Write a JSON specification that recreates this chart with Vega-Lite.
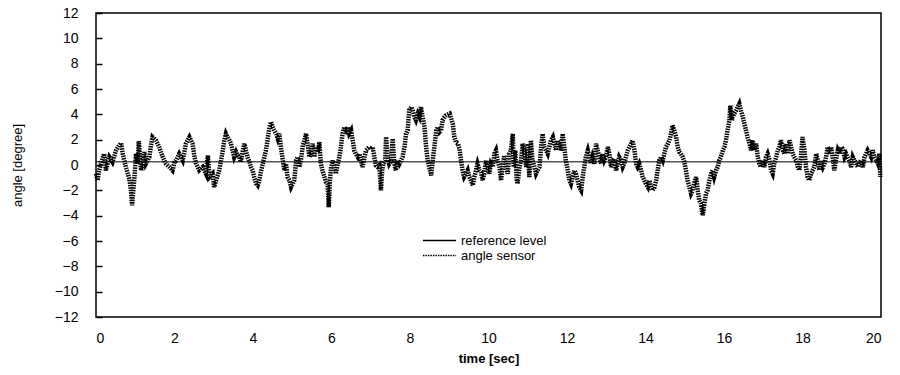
{
  "$schema": "https://vega.github.io/schema/vega-lite/v6.json",
  "width": 785,
  "height": 304,
  "autosize": "none",
  "padding": {"left": 96, "top": 13, "right": 19, "bottom": 58},
  "background": "white",
  "config": {
    "view": {"stroke": "black", "strokeWidth": 1.5},
    "font": "Liberation Sans",
    "axis": {"grid": false, "domain": false, "labelFont": "Liberation Sans", "titleFont": "Liberation Sans", "labelColor": "black", "titleColor": "black"}
  },
  "datasets": {
    "ref": [{"t": 0, "v": 0.25, "series": "reference level"}, {"t": 20, "v": 0.25, "series": "reference level"}],
    "sensor": [
      {"t":0.00,"v":-0.69},{"t":0.04,"v":-1.22},{"t":0.08,"v":-0.43},{"t":0.15,"v":0.36},{"t":0.21,"v":0.89},{"t":0.25,"v":-0.43},{"t":0.34,"v":0.63},{"t":0.42,"v":0.23},{"t":0.51,"v":1.15},{"t":0.59,"v":1.55},{"t":0.64,"v":1.73},{"t":0.68,"v":0.89},{"t":0.76,"v":-0.16},{"t":0.85,"v":-1.09},{"t":0.89,"v":-2.01},{"t":0.92,"v":-3.19},{"t":0.95,"v":-2.01},{"t":0.98,"v":-0.95},{"t":1.02,"v":0.89},{"t":1.06,"v":0.10},{"t":1.09,"v":1.89},{"t":1.15,"v":-0.43},{"t":1.23,"v":1.02},{"t":1.27,"v":0.10},{"t":1.36,"v":0.63},{"t":1.40,"v":1.55},{"t":1.44,"v":2.21},{"t":1.53,"v":1.94},{"t":1.61,"v":1.42},{"t":1.70,"v":0.63},{"t":1.78,"v":0.10},{"t":1.87,"v":-0.16},{"t":1.95,"v":-0.43},{"t":2.00,"v":0.23},{"t":2.04,"v":0.36},{"t":2.12,"v":0.89},{"t":2.21,"v":0.36},{"t":2.29,"v":1.68},{"t":2.38,"v":2.21},
      {"t":2.46,"v":1.68},{"t":2.51,"v":0.63},{"t":2.55,"v":0.11},{"t":2.63,"v":-0.42},{"t":2.72,"v":-0.16},{"t":2.80,"v":-0.68},{"t":2.85,"v":0.76},{"t":2.89,"v":-0.95},{"t":2.97,"v":-0.68},{"t":3.01,"v":-1.74},{"t":3.06,"v":-1.21},{"t":3.14,"v":-0.42},{"t":3.18,"v":0.24},{"t":3.23,"v":1.16},{"t":3.27,"v":1.95},{"t":3.31,"v":2.47},{"t":3.35,"v":2.21},{"t":3.40,"v":1.95},{"t":3.44,"v":1.68},{"t":3.48,"v":1.16},{"t":3.52,"v":0.63},{"t":3.57,"v":1.03},{"t":3.61,"v":0.76},{"t":3.65,"v":0.63},{"t":3.69,"v":0.24},{"t":3.74,"v":1.16},{"t":3.78,"v":1.68},{"t":3.82,"v":1.16},{"t":3.86,"v":0.63},{"t":3.91,"v":0.24},{"t":3.95,"v":-0.16},{"t":3.99,"v":-0.42},{"t":4.03,"v":-0.95},{"t":4.08,"v":-1.47},{"t":4.12,"v":-1.61},{"t":4.16,"v":-1.21},{"t":4.20,"v":-0.55},{"t":4.25,"v":0.11},{"t":4.29,"v":0.63},{"t":4.33,"v":1.16},{"t":4.37,"v":1.95},{"t":4.42,"v":3.00},{"t":4.46,"v":3.39},{"t":4.50,"v":3.00},{"t":4.54,"v":2.74},{"t":4.59,"v":2.47},{"t":4.63,"v":2.08},
      {"t":4.67,"v":2.47},{"t":4.71,"v":1.42},{"t":4.76,"v":0.36},{"t":4.80,"v":-0.42},{"t":4.84,"v":0.10},{"t":4.88,"v":-0.95},{"t":4.93,"v":-1.21},{"t":4.97,"v":-1.74},{"t":5.01,"v":-1.48},{"t":5.05,"v":-1.21},{"t":5.10,"v":0.36},{"t":5.14,"v":0.63},{"t":5.18,"v":-0.16},{"t":5.22,"v":0.36},{"t":5.27,"v":1.55},{"t":5.31,"v":1.94},{"t":5.35,"v":2.47},{"t":5.39,"v":1.68},{"t":5.44,"v":0.63},{"t":5.48,"v":1.15},{"t":5.52,"v":1.68},{"t":5.56,"v":0.63},{"t":5.61,"v":1.42},{"t":5.65,"v":1.02},{"t":5.69,"v":1.81},{"t":5.73,"v":0.10},{"t":5.77,"v":-0.43},{"t":5.82,"v":-0.95},{"t":5.86,"v":-1.35},{"t":5.90,"v":-1.48},{"t":5.93,"v":-3.32},{"t":5.96,"v":-1.21},{"t":5.99,"v":-0.16},{"t":6.03,"v":0.36},{"t":6.07,"v":-0.16},{"t":6.11,"v":-0.69},{"t":6.16,"v":0.10},{"t":6.20,"v":0.63},{"t":6.24,"v":1.42},{"t":6.28,"v":2.47},{"t":6.33,"v":3.00},{"t":6.37,"v":2.74},{"t":6.41,"v":3.00},{"t":6.45,"v":2.47},{"t":6.50,"v":2.74},{"t":6.54,"v":1.94},{"t":6.58,"v":1.15},{"t":6.62,"v":0.89},{"t":6.67,"v":0.63},{"t":6.71,"v":0.89},{"t":6.75,"v":0.36},{"t":6.79,"v":-0.16},{"t":6.84,"v":0.63},{"t":6.88,"v":1.15},{"t":6.92,"v":1.29},{"t":6.96,"v":1.42},{"t":7.00,"v":1.29},{"t":7.05,"v":1.42},{"t":7.09,"v":0.63},{"t":7.13,"v":-0.03},{"t":7.18,"v":-0.16},{"t":7.22,"v":-0.03},{"t":7.26,"v":-2.0},{"t":7.29,"v":-0.43},{"t":7.32,"v":0.10},{"t":7.37,"v":0.36},{"t":7.39,"v":2.21},{"t":7.43,"v":0.63},{"t":7.47,"v":0.10},{"t":7.52,"v":0.36},{"t":7.56,"v":2.08},{"t":7.60,"v":0.10},{"t":7.64,"v":-0.43},{"t":7.69,"v":0.36},{"t":7.73,"v":0.10},{"t":7.77,"v":0.36},{"t":7.81,"v":0.63},{"t":7.86,"v":1.42},{"t":7.90,"v":2.47},{"t":7.94,"v":2.74},{"t":7.98,"v":4.32},{"t":8.03,"v":4.58},{"t":8.07,"v":4.32},{"t":8.11,"v":3.79},{"t":8.15,"v":3.53},{"t":8.20,"v":4.05},{"t":8.24,"v":3.79},{"t":8.28,"v":4.58},{"t":8.32,"v":3.79},{"t":8.37,"v":3.00},{"t":8.41,"v":1.42},{"t":8.45,"v":0.36},{"t":8.49,"v":-0.16},{"t":8.54,"v":-0.82},{"t":8.58,"v":0.36},{"t":8.62,"v":1.42},{"t":8.67,"v":2.74},{"t":8.71,"v":3.00},{"t":8.75,"v":2.60},{"t":8.79,"v":2.74},{"t":8.83,"v":3.53},{"t":8.88,"v":3.79},{"t":8.92,"v":3.92},{"t":9.01,"v":4.05},{"t":9.05,"v":3.66},{"t":9.09,"v":3.26},{"t":9.13,"v":2.21},{"t":9.17,"v":1.81},{"t":9.22,"v":1.68},{"t":9.26,"v":1.29},{"t":9.30,"v":0.36},{"t":9.34,"v":-0.43},{"t":9.38,"v":-0.95},{"t":9.43,"v":-0.69},{"t":9.47,"v":-0.43},{"t":9.51,"v":-0.95},{"t":9.55,"v":-1.21},{"t":9.60,"v":-1.61},{"t":9.64,"v":-0.95},{"t":9.68,"v":-0.43},{"t":9.72,"v":0.10},{"t":9.77,"v":-0.43},
      {"t":9.81,"v":-0.56},{"t":9.85,"v":-1.21},{"t":9.89,"v":-0.69},{"t":9.94,"v":0.36},{"t":9.98,"v":-0.16},{"t":10.02,"v":-0.69},{"t":10.06,"v":0.10},{"t":10.11,"v":-0.16},{"t":10.15,"v":0.89},{"t":10.19,"v":1.15},{"t":10.23,"v":0.36},{"t":10.28,"v":-0.16},{"t":10.32,"v":-1.22},{"t":10.36,"v":-0.16},{"t":10.40,"v":0.76},{"t":10.45,"v":-0.16},{"t":10.49,"v":-0.69},{"t":10.53,"v":0.89},{"t":10.57,"v":1.15},{"t":10.62,"v":2.47},{"t":10.64,"v":-0.16},{"t":10.68,"v":1.15},{"t":10.72,"v":-1.22},{"t":10.74,"v":-1.48},{"t":10.79,"v":-0.16},{"t":10.83,"v":0.36},{"t":10.87,"v":1.68},{"t":10.91,"v":1.15},{"t":10.96,"v":-0.16},{"t":11.00,"v":1.68},{"t":11.04,"v":-0.95},{"t":11.08,"v":1.94},{"t":11.12,"v":0.36},{"t":11.17,"v":-0.16},{"t":11.21,"v":-0.69},{"t":11.25,"v":-0.43},{"t":11.30,"v":-0.16},{"t":11.34,"v":1.42},{"t":11.38,"v":2.47},{"t":11.42,"v":1.42},{"t":11.47,"v":1.15},{"t":11.51,"v":0.89},{"t":11.55,"v":1.42},{"t":11.59,"v":1.94},{"t":11.64,"v":2.21},{"t":11.68,"v":1.68},{"t":11.72,"v":1.15},{"t":11.76,"v":1.94},{"t":11.80,"v":1.68},{"t":11.85,"v":1.15},{"t":11.89,"v":2.47},{"t":11.93,"v":1.42},{"t":11.97,"v":0.36},{"t":12.02,"v":-0.43},{"t":12.06,"v":-1.22},{"t":12.10,"v":-1.48},{"t":12.14,"v":-0.95},{"t":12.19,"v":-0.43},{"t":12.23,"v":-0.69},{"t":12.27,"v":-1.22},{"t":12.31,"v":-1.74},{"t":12.36,"v":-2.0},{"t":12.40,"v":-0.95},{"t":12.44,"v":-0.16},{"t":12.48,"v":0.63},{"t":12.53,"v":1.15},{"t":12.57,"v":0.63},{"t":12.61,"v":0.10},{"t":12.65,"v":0.63},{"t":12.70,"v":0.10},{"t":12.74,"v":1.68},{"t":12.78,"v":1.15},{"t":12.82,"v":0.63},{"t":12.87,"v":0.10},{"t":12.91,"v":0.89},{"t":12.95,"v":0.36},{"t":12.99,"v":0.63},{"t":13.04,"v":1.42},{"t":13.08,"v":0.89},{"t":13.12,"v":-0.16},{"t":13.17,"v":0.36},{"t":13.21,"v":0.49},{"t":13.25,"v":-0.43},{"t":13.29,"v":0.10},{"t":13.33,"v":0.63},{"t":13.38,"v":0.36},{"t":13.42,"v":-0.16},{"t":13.46,"v":0.10},{"t":13.50,"v":0.63},{"t":13.55,"v":1.15},{"t":13.59,"v":1.42},{"t":13.63,"v":1.68},{"t":13.67,"v":1.94},{"t":13.72,"v":1.15},{"t":13.76,"v":0.10},{"t":13.80,"v":-0.16},{"t":13.84,"v":0.10},{"t":13.89,"v":-0.43},{"t":13.93,"v":-0.95},{"t":13.97,"v":-1.22},{"t":14.01,"v":-1.48},{"t":14.06,"v":-1.74},{"t":14.10,"v":-1.22},{"t":14.14,"v":-1.74},{"t":14.18,"v":-2.0},{"t":14.23,"v":-1.74},{"t":14.27,"v":-1.22},{"t":14.31,"v":-0.43},{"t":14.35,"v":0.36},{"t":14.40,"v":0.63},{"t":14.44,"v":0.36},{"t":14.48,"v":0.89},{"t":14.52,"v":1.42},{"t":14.57,"v":1.68},{"t":14.61,"v":1.94},{"t":14.65,"v":2.47},{"t":14.69,"v":3.13},{"t":14.73,"v":2.74},{"t":14.78,"v":2.21},{"t":14.82,"v":1.42},
      {"t":14.86,"v":1.03},{"t":14.90,"v":0.89},{"t":14.95,"v":0.63},{"t":14.99,"v":0.24},{"t":15.03,"v":-0.42},{"t":15.07,"v":-1.21},{"t":15.12,"v":-1.74},{"t":15.16,"v":-2.26},{"t":15.20,"v":-2.0},{"t":15.24,"v":-1.47},{"t":15.29,"v":-0.95},{"t":15.33,"v":-2.0},{"t":15.37,"v":-2.79},{"t":15.41,"v":-3.05},{"t":15.46,"v":-3.97},{"t":15.50,"v":-3.05},{"t":15.54,"v":-2.26},{"t":15.58,"v":-2.0},{"t":15.63,"v":-1.21},{"t":15.67,"v":-0.68},{"t":15.71,"v":-0.42},{"t":15.75,"v":-0.95},{"t":15.80,"v":-0.42},{"t":15.84,"v":-0.16},{"t":15.88,"v":0.37},{"t":15.92,"v":0.63},{"t":15.97,"v":1.16},{"t":16.01,"v":1.42},{"t":16.05,"v":1.95},{"t":16.09,"v":2.74},{"t":16.14,"v":3.53},{"t":16.16,"v":4.71},{"t":16.20,"v":3.53},{"t":16.22,"v":3.79},{"t":16.26,"v":4.05},{"t":16.31,"v":4.32},{"t":16.35,"v":4.58},{"t":16.39,"v":4.84},{"t":16.43,"v":4.32},{"t":16.48,"v":3.79},{"t":16.52,"v":3.26},{"t":16.56,"v":2.74},{"t":16.60,"v":2.21},{"t":16.65,"v":1.68},{"t":16.69,"v":1.16},{"t":16.73,"v":1.95},{"t":16.77,"v":1.16},{"t":16.82,"v":1.68},{"t":16.86,"v":0.63},{"t":16.90,"v":0.11},{"t":16.94,"v":-0.16},{"t":16.99,"v":0.37},{"t":17.03,"v":-0.16},{"t":17.07,"v":0.63},{"t":17.11,"v":0.89},{"t":17.16,"v":0.37},{"t":17.20,"v":-0.42},{"t":17.24,"v":-0.68},{"t":17.28,"v":0.11},{"t":17.33,"v":0.63},{"t":17.37,"v":1.16},{"t":17.41,"v":1.42},{"t":17.45,"v":1.95},{"t":17.50,"v":1.16},{"t":17.54,"v":0.89},{"t":17.58,"v":1.68},{"t":17.62,"v":0.89},{"t":17.67,"v":1.95},{"t":17.71,"v":1.42},{"t":17.75,"v":0.89},{"t":17.79,"v":0.63},{"t":17.84,"v":0.37},{"t":17.88,"v":-0.16},{"t":17.92,"v":-0.42},{"t":17.96,"v":0.63},{"t":18.00,"v":2.21},{"t":18.05,"v":1.16},{"t":18.09,"v":-0.16},{"t":18.13,"v":-0.95},{"t":18.17,"v":-1.21},{"t":18.22,"v":-0.68},{"t":18.26,"v":-0.42},{"t":18.30,"v":-0.16},{"t":18.35,"v":0.89},{"t":18.39,"v":0.37},{"t":18.43,"v":-0.42},{"t":18.47,"v":0.37},{"t":18.52,"v":-0.16},{"t":18.56,"v":0.11},{"t":18.60,"v":0.63},{"t":18.64,"v":1.42},{"t":18.68,"v":1.16},{"t":18.73,"v":1.42},{"t":18.77,"v":0.63},{"t":18.81,"v":-0.42},{"t":18.85,"v":0.37},{"t":18.90,"v":1.16},{"t":18.94,"v":0.89},{"t":18.98,"v":1.42},{"t":19.02,"v":1.29},{"t":19.07,"v":0.63},{"t":19.11,"v":0.89},{"t":19.15,"v":0.63},{"t":19.19,"v":0.37},{"t":19.24,"v":-0.16},{"t":19.28,"v":0.63},{"t":19.32,"v":0.37},{"t":19.37,"v":0.11},{"t":19.41,"v":-0.16},{"t":19.45,"v":0.11},{"t":19.49,"v":0.37},{"t":19.54,"v":-0.16},{"t":19.58,"v":0.63},{"t":19.62,"v":0.89},{"t":19.66,"v":1.16},{"t":19.71,"v":0.89},{"t":19.75,"v":0.63},{"t":19.79,"v":1.16},{"t":19.83,"v":0.63},{"t":19.88,"v":0.37},{"t":19.92,"v":0.11},{"t":19.96,"v":0.89},{"t":19.98,"v":-0.95}
    ]
  },
  "encoding": {
    "x": {"field": "t", "type": "quantitative", "scale": {"domain": [0, 20], "nice": false},
      "axis": {"title": "time [sec]", "values": [0,2,4,6,8,10,12,14,16,18,20], "ticks": false, "labelFontSize": 14, "labelPadding": 14, "titleFontSize": 13, "titleFontWeight": "bold", "titlePadding": 7}},
    "y": {"field": "v", "type": "quantitative", "scale": {"domain": [-12, 12], "nice": false},
      "axis": {"title": "angle [degree]", "values": [-12,-10,-8,-6,-4,-2,0,2,4,6,8,10,12], "labelOverlap": false, "offset": -6, "ticks": true, "tickSize": 6, "tickColor": "black", "tickWidth": 1.5, "labelFontSize": 14, "labelPadding": 18, "titleFontSize": 13, "titleFontWeight": "normal", "titlePadding": 30}},
    "strokeDash": {"field": "series", "type": "nominal",
      "scale": {"domain": ["reference level", "angle sensor"], "range": [[1, 0], [1.5, 1]]},
      "legend": {"title": null, "orient": "none", "legendX": 326, "legendY": 220, "symbolType": "stroke", "symbolSize": 1100, "symbolStrokeWidth": 1.5, "symbolStrokeColor": "black", "labelFontSize": 13, "labelColor": "black", "labelOffset": 4, "rowPadding": 0, "clipHeight": 15}}
  },
  "layer": [
    {
      "data": {"name": "ref"},
      "mark": {"type": "line", "color": "black", "strokeWidth": 1}
    },
    {
      "data": {"name": "sensor"},
      "transform": [{"calculate": "'angle sensor'", "as": "series"}],
      "mark": {"type": "line", "color": "black", "strokeWidth": 4.5}
    }
  ]
}
